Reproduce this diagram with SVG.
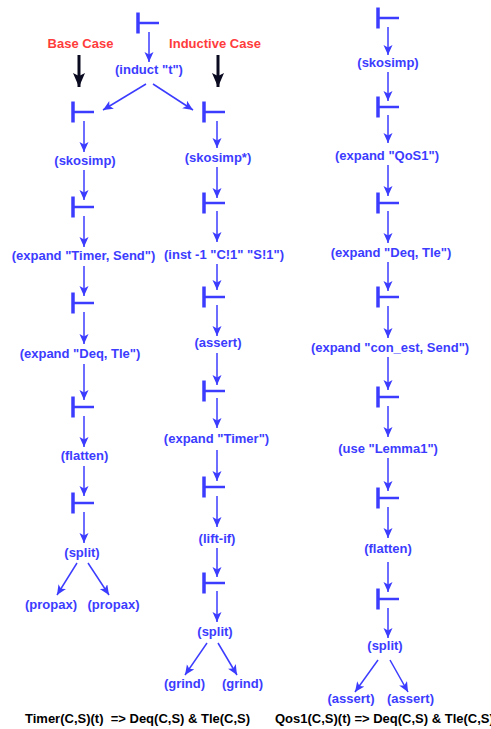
<svg xmlns="http://www.w3.org/2000/svg" xmlns:xlink="http://www.w3.org/1999/xlink" width="491" height="729" viewBox="0 0 491 729">
<style>
  text { font-family: "Liberation Sans", Arial, Helvetica, sans-serif; font-weight: bold; font-size: 13px; text-anchor: middle; }
  .lbl { fill: #3c3cff; }
  .case { fill: #ff3c3c; }
  .foot { fill: #000000; text-anchor: start; white-space: pre; }
  .bar { stroke: #3c3cff; stroke-width: 3.5; fill: none; }
  .hbar { stroke: #3c3cff; stroke-width: 2.5; fill: none; }
  .c { stroke: #3c3cff; stroke-width: 1.5; fill: none; marker-end: url(#ah); }
  .k { stroke: #0a0a20; stroke-width: 3; fill: none; marker-end: url(#kh); }
</style>
<defs>
  <marker id="ah" markerUnits="userSpaceOnUse" markerWidth="11" markerHeight="10" refX="10" refY="4.5" orient="auto">
    <path d="M0,0 L10,4.5 L0,9 L2.5,4.5 z" fill="#3c3cff"/>
  </marker>
  <marker id="kh" markerUnits="userSpaceOnUse" markerWidth="15" markerHeight="13" refX="14" refY="6" orient="auto">
    <path d="M0,0 L14,6 L0,12 L3,6 z" fill="#0a0a20"/>
  </marker>
  <g id="ts">
    <line class="bar" x1="0" y1="-10.5" x2="0" y2="10.5"/>
    <line class="hbar" x1="0" y1="0" x2="21" y2="0"/>
  </g>
</defs>

<g id="connectors">
  <!-- top -->
  <line class="c" x1="149" y1="32" x2="149" y2="62"/>
  <line class="c" x1="146" y1="84" x2="103" y2="110"/>
  <line class="c" x1="153" y1="84" x2="193" y2="110"/>
  <line class="k" x1="79" y1="55" x2="79" y2="87"/>
  <line class="k" x1="218" y1="55" x2="218" y2="87"/>
  <!-- left column -->
  <line class="c" x1="84" y1="121" x2="84" y2="152"/>
  <line class="c" x1="84" y1="170" x2="84" y2="200"/>
  <line class="c" x1="84" y1="216" x2="84" y2="247"/>
  <line class="c" x1="84" y1="266" x2="84" y2="296"/>
  <line class="c" x1="84" y1="312" x2="84" y2="344"/>
  <line class="c" x1="84" y1="364" x2="84" y2="400"/>
  <line class="c" x1="84" y1="416" x2="84" y2="447"/>
  <line class="c" x1="84" y1="466" x2="84" y2="496"/>
  <line class="c" x1="84" y1="512" x2="84" y2="543"/>
  <line class="c" x1="77" y1="563" x2="57" y2="595"/>
  <line class="c" x1="88" y1="563" x2="109" y2="595"/>
  <!-- middle column -->
  <line class="c" x1="217" y1="121" x2="217" y2="148"/>
  <line class="c" x1="217" y1="167" x2="217" y2="198"/>
  <line class="c" x1="217" y1="211" x2="217" y2="242"/>
  <line class="c" x1="217" y1="264" x2="217" y2="290"/>
  <line class="c" x1="217" y1="305" x2="217" y2="336"/>
  <line class="c" x1="217" y1="353" x2="217" y2="385"/>
  <line class="c" x1="217" y1="398" x2="217" y2="428"/>
  <line class="c" x1="217" y1="450" x2="217" y2="481"/>
  <line class="c" x1="217" y1="496" x2="217" y2="527"/>
  <line class="c" x1="217" y1="548" x2="217" y2="577"/>
  <line class="c" x1="217" y1="591" x2="217" y2="622"/>
  <line class="c" x1="207" y1="643" x2="185" y2="675"/>
  <line class="c" x1="218" y1="643" x2="237" y2="675"/>
  <!-- right column -->
  <line class="c" x1="388" y1="27" x2="388" y2="55"/>
  <line class="c" x1="388" y1="72" x2="388" y2="101"/>
  <line class="c" x1="388" y1="115" x2="388" y2="143"/>
  <line class="c" x1="388" y1="165" x2="388" y2="196"/>
  <line class="c" x1="388" y1="211" x2="388" y2="243"/>
  <line class="c" x1="388" y1="262" x2="388" y2="291"/>
  <line class="c" x1="388" y1="306" x2="388" y2="338"/>
  <line class="c" x1="388" y1="357" x2="388" y2="390"/>
  <line class="c" x1="388" y1="406" x2="388" y2="437"/>
  <line class="c" x1="388" y1="458" x2="388" y2="491"/>
  <line class="c" x1="388" y1="507" x2="388" y2="538"/>
  <line class="c" x1="388" y1="562" x2="388" y2="592"/>
  <line class="c" x1="388" y1="608" x2="388" y2="638"/>
  <line class="c" x1="378" y1="660" x2="355" y2="692"/>
  <line class="c" x1="390" y1="660" x2="408" y2="692"/>
</g>

<!-- top -->
<g id="t0"><use xlink:href="#ts" href="#ts" x="138" y="23"/></g>
<g id="induct"><text class="lbl" x="149" y="74">(induct "t")</text></g>
<g id="base-case"><text class="case" x="80.5" y="48">Base Case</text></g>
<g id="inductive-case"><text class="case" x="215" y="48">Inductive Case</text></g>

<!-- left column -->
<g id="l-t1"><use xlink:href="#ts" href="#ts" x="73" y="112"/></g>
<g id="l-skosimp"><text class="lbl" x="85" y="165">(skosimp)</text></g>
<g id="l-t2"><use xlink:href="#ts" href="#ts" x="73" y="207"/></g>
<g id="l-expand1"><text class="lbl" x="83.5" y="260">(expand "Timer, Send")</text></g>
<g id="l-t3"><use xlink:href="#ts" href="#ts" x="73" y="303"/></g>
<g id="l-expand2"><text class="lbl" x="80" y="358">(expand "Deq, Tle")</text></g>
<g id="l-t4"><use xlink:href="#ts" href="#ts" x="73" y="407"/></g>
<g id="l-flatten"><text class="lbl" x="84.5" y="460">(flatten)</text></g>
<g id="l-t5"><use xlink:href="#ts" href="#ts" x="73" y="503"/></g>
<g id="l-split"><text class="lbl" x="82" y="557">(split)</text></g>
<g id="l-propax1"><text class="lbl" x="51" y="609">(propax)</text></g>
<g id="l-propax2"><text class="lbl" x="113.5" y="609">(propax)</text></g>

<!-- middle column -->
<g id="m-t1"><use xlink:href="#ts" href="#ts" x="204" y="112"/></g>
<g id="m-skosimp"><text class="lbl" x="218" y="162">(skosimp*)</text></g>
<g id="m-t2"><use xlink:href="#ts" href="#ts" x="204" y="203"/></g>
<g id="m-inst"><text class="lbl" x="224" y="259">(inst -1 "C!1" "S!1")</text></g>
<g id="m-t3"><use xlink:href="#ts" href="#ts" x="204" y="297"/></g>
<g id="m-assert"><text class="lbl" x="218" y="347">(assert)</text></g>
<g id="m-t4"><use xlink:href="#ts" href="#ts" x="204" y="391"/></g>
<g id="m-expand"><text class="lbl" x="216.5" y="443">(expand "Timer")</text></g>
<g id="m-t5"><use xlink:href="#ts" href="#ts" x="204" y="487"/></g>
<g id="m-liftif"><text class="lbl" x="217" y="543">(lift-if)</text></g>
<g id="m-t6"><use xlink:href="#ts" href="#ts" x="204" y="583"/></g>
<g id="m-split"><text class="lbl" x="215" y="636">(split)</text></g>
<g id="m-grind1"><text class="lbl" x="184.5" y="688">(grind)</text></g>
<g id="m-grind2"><text class="lbl" x="242.5" y="688">(grind)</text></g>

<!-- right column -->
<g id="r-t1"><use xlink:href="#ts" href="#ts" x="378" y="18"/></g>
<g id="r-skosimp"><text class="lbl" x="388" y="67">(skosimp)</text></g>
<g id="r-t2"><use xlink:href="#ts" href="#ts" x="378" y="107"/></g>
<g id="r-expand1"><text class="lbl" x="387" y="160">(expand "QoS1")</text></g>
<g id="r-t3"><use xlink:href="#ts" href="#ts" x="378" y="203"/></g>
<g id="r-expand2"><text class="lbl" x="391" y="257">(expand "Deq, Tle")</text></g>
<g id="r-t4"><use xlink:href="#ts" href="#ts" x="378" y="297"/></g>
<g id="r-expand3"><text class="lbl" x="390" y="352">(expand "con_est, Send")</text></g>
<g id="r-t5"><use xlink:href="#ts" href="#ts" x="378" y="397"/></g>
<g id="r-use"><text class="lbl" x="388" y="453">(use "Lemma1")</text></g>
<g id="r-t6"><use xlink:href="#ts" href="#ts" x="378" y="498"/></g>
<g id="r-flatten"><text class="lbl" x="388" y="553">(flatten)</text></g>
<g id="r-t7"><use xlink:href="#ts" href="#ts" x="378" y="599"/></g>
<g id="r-split"><text class="lbl" x="385" y="650">(split)</text></g>
<g id="r-assert1"><text class="lbl" x="351" y="703">(assert)</text></g>
<g id="r-assert2"><text class="lbl" x="410.5" y="703">(assert)</text></g>

<!-- footers -->
<g id="footer-left"><text class="foot" x="25" y="723" xml:space="preserve">Timer(C,S)(t)  =&gt; Deq(C,S) &amp; Tle(C,S)</text></g>
<g id="footer-right"><text class="foot" x="275" y="723">Qos1(C,S)(t) =&gt; Deq(C,S) &amp; Tle(C,S)</text></g>
</svg>
